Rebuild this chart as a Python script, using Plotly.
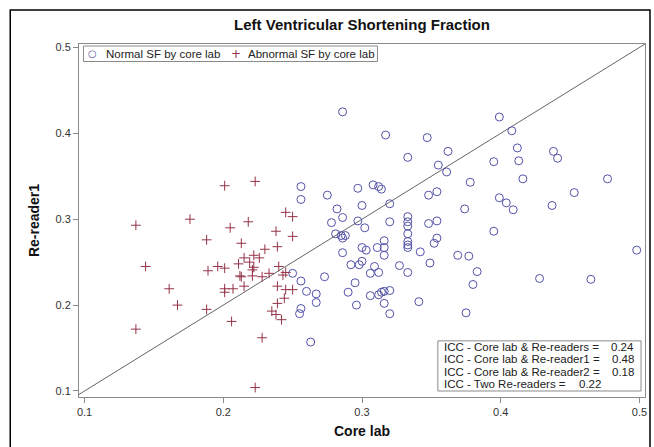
import plotly.graph_objects as go

# ---- data ----
normal_x = [0.286, 0.317, 0.347, 0.333, 0.362, 0.355, 0.361, 0.399, 0.408, 0.412,
            0.395, 0.413, 0.438, 0.441, 0.378, 0.416, 0.477, 0.256, 0.256, 0.275,
            0.297, 0.308, 0.312, 0.314, 0.300, 0.320, 0.348, 0.354, 0.453, 0.399,
            0.404, 0.409, 0.437, 0.374, 0.282, 0.286, 0.278, 0.297, 0.302, 0.320,
            0.333, 0.333, 0.333, 0.333, 0.333, 0.333, 0.333,
            0.348, 0.354, 0.354, 0.352, 0.395, 0.281, 0.285, 0.288, 0.286, 0.286,
            0.300, 0.303, 0.311, 0.316, 0.316, 0.316, 0.342, 0.369, 0.377, 0.349,
            0.292, 0.298, 0.300, 0.309, 0.306, 0.312, 0.327, 0.333, 0.383, 0.380,
            0.428, 0.465, 0.498, 0.250, 0.256, 0.273, 0.295, 0.260, 0.267, 0.267,
            0.290, 0.306, 0.312, 0.314, 0.316, 0.320, 0.296, 0.316, 0.320, 0.341,
            0.375, 0.256, 0.255, 0.263]
normal_y = [0.425, 0.398, 0.395, 0.372, 0.379, 0.363, 0.355, 0.419, 0.403, 0.383,
            0.367, 0.368, 0.379, 0.371, 0.343, 0.347, 0.347, 0.338, 0.323, 0.328,
            0.336, 0.340, 0.338, 0.335, 0.316, 0.318, 0.328, 0.332, 0.331, 0.325,
            0.319, 0.311, 0.316, 0.312, 0.312, 0.302, 0.296, 0.298, 0.290, 0.297,
            0.303, 0.297, 0.292, 0.283, 0.274, 0.270, 0.267,
            0.295, 0.298, 0.278, 0.272, 0.286, 0.283, 0.281, 0.281, 0.278, 0.261,
            0.267, 0.264, 0.267, 0.275, 0.267, 0.258, 0.262, 0.258, 0.257, 0.249,
            0.247, 0.247, 0.251, 0.245, 0.237, 0.238, 0.246, 0.238, 0.239, 0.224,
            0.231, 0.230, 0.264, 0.237, 0.228, 0.233, 0.226, 0.216, 0.213, 0.203,
            0.215, 0.211, 0.212, 0.215, 0.216, 0.217, 0.200, 0.202, 0.190, 0.204,
            0.191, 0.196, 0.190, 0.157]

abnormal_x = [0.137, 0.144, 0.137, 0.161, 0.167, 0.176, 0.188, 0.189, 0.188, 0.196,
              0.201, 0.201, 0.205, 0.201, 0.201, 0.207, 0.206, 0.211, 0.213, 0.215,
              0.212, 0.215, 0.218, 0.219, 0.222, 0.226, 0.222, 0.221, 0.223, 0.223,
              0.228, 0.228, 0.230, 0.233, 0.238, 0.239, 0.240, 0.243, 0.245, 0.239,
              0.245, 0.250, 0.244, 0.239, 0.235, 0.238, 0.242, 0.245, 0.250, 0.250,
              0.221, 0.213]
abnormal_y = [0.293, 0.245, 0.172, 0.219, 0.200, 0.300, 0.276, 0.240, 0.195, 0.245,
              0.243, 0.339, 0.290, 0.219, 0.215, 0.219, 0.181, 0.248, 0.272, 0.255,
              0.234, 0.222, 0.297, 0.250, 0.258, 0.255, 0.244, 0.234, 0.344, 0.104,
              0.162, 0.233, 0.265, 0.237, 0.286, 0.268, 0.245, 0.235, 0.238, 0.222,
              0.218, 0.218, 0.208, 0.202, 0.193, 0.189, 0.183, 0.308, 0.303, 0.280,
              0.241, 0.233]

identity_line = [0.09, 0.51]
tick_vals = [0.1, 0.2, 0.3, 0.4, 0.5]
tick_text = ["0.1", "0.2", "0.3", "0.4", "0.5"]
series_names = ["Normal SF by core lab", "Abnormal SF by core lab"]
icc_labels = ["ICC - Core lab & Re-readers =",
              "ICC - Core lab & Re-reader1 =",
              "ICC - Core lab & Re-reader2 =",
              "ICC - Two Re-readers ="]
icc_values = ["0.24", "0.48", "0.18", "0.22"]

FONT = "Liberation Sans, Arial, sans-serif"
BLUE = "#5252a8"
RED = "#953247"
TXT = "#222222"

fig = go.Figure()
fig.add_trace(go.Scatter(x=identity_line, y=identity_line, mode="lines",
                         line=dict(color="#666666", width=1), showlegend=False,
                         hoverinfo="skip"))
fig.add_trace(go.Scatter(x=normal_x, y=normal_y, mode="markers",
                         name=series_names[0], showlegend=False,
                         marker=dict(symbol="circle-open", size=8,
                                     color=BLUE, line=dict(width=1, color=BLUE))))
fig.add_trace(go.Scatter(x=abnormal_x, y=abnormal_y, mode="markers",
                         name=series_names[1], showlegend=False,
                         marker=dict(symbol="cross-thin-open", size=7,
                                     color=RED, line=dict(width=1, color=RED))))

axis_common = dict(showgrid=False, zeroline=False, showline=True, mirror=True,
                   linecolor="#8a8a8a", linewidth=1, ticks="outside", ticklen=5,
                   tickcolor="#8a8a8a", tickvals=tick_vals, ticktext=tick_text,
                   tickfont=dict(family=FONT, size=11, color="#333333"))

fig.update_layout(
    width=654, height=447,
    margin=dict(l=79, r=7, t=44, b=50),
    paper_bgcolor="white", plot_bgcolor="white",
    font=dict(family=FONT, color=TXT),
    title=dict(text="<b>Left Ventricular Shortening Fraction</b>",
               x=0.5, xref="paper", xanchor="center",
               y=1 - 25 / 447, yref="container", yanchor="middle",
               font=dict(family=FONT, size=15, color="#111111")),
    xaxis=dict(range=[0.096, 0.504],
               title=dict(text="<b>Core lab</b>", font=dict(family=FONT, size=14, color="#111111"),
                          standoff=8),
               **axis_common),
    yaxis=dict(range=[0.093, 0.504],
               title=dict(text="<b>Re-reader1</b>", font=dict(family=FONT, size=14, color="#111111"),
                          standoff=12),
               **axis_common),
    showlegend=False,
)

# outer frame around the whole graphic
fig.add_shape(type="rect", xref="paper", yref="paper",
              x0=(10 - 79) / 568, x1=(652 - 79) / 568,
              y0=-0.2, y1=(397 - 10) / 353,
              line=dict(color="black", width=1.5), layer="below")

# compact legend box (top-left, inside plot)
fig.add_shape(type="rect", xref="paper", yref="paper",
              x0=(83.5 - 79) / 568, x1=(378.5 - 79) / 568,
              y0=(397 - 61.5) / 353, y1=(397 - 46) / 353,
              line=dict(color="#8a8a8a", width=1), fillcolor="white")
leg_y = (397 - 53.8) / 353
fig.add_annotation(xref="paper", yref="paper", x=(93 - 79) / 568, y=leg_y,
                   text="○", showarrow=False, xanchor="center", yanchor="middle",
                   font=dict(family="DejaVu Sans", size=10, color=BLUE))
fig.add_annotation(xref="paper", yref="paper", x=(104 - 79) / 568, y=leg_y,
                   text=series_names[0], showarrow=False, xanchor="left", yanchor="middle",
                   font=dict(family=FONT, size=11.5, color=TXT))
fig.add_annotation(xref="paper", yref="paper", x=(236.5 - 79) / 568, y=leg_y,
                   text="+", showarrow=False, xanchor="center", yanchor="middle",
                   font=dict(family="DejaVu Sans", size=12, color=RED))
fig.add_annotation(xref="paper", yref="paper", x=(247 - 79) / 568, y=leg_y,
                   text=series_names[1], showarrow=False, xanchor="left", yanchor="middle",
                   font=dict(family=FONT, size=11.5, color=TXT))

# ICC box
fig.add_shape(type="rect", xref="paper", yref="paper",
              x0=0.634, x1=0.993, y0=0.017, y1=0.159,
              line=dict(color="#8a8a8a", width=1), fillcolor="white")
line_ys = [0.141, 0.107, 0.072, 0.036]
value_xs = [0.984, 0.984, 0.984, 0.926]
for lab, val, yy, vx in zip(icc_labels, icc_values, line_ys, value_xs):
    fig.add_annotation(xref="paper", yref="paper", x=0.641, y=yy, text=lab,
                       showarrow=False, xanchor="left", yanchor="middle",
                       font=dict(family=FONT, size=11.5, color=TXT))
    fig.add_annotation(xref="paper", yref="paper", x=vx, y=yy, text=val,
                       showarrow=False, xanchor="right", yanchor="middle",
                       font=dict(family=FONT, size=11.5, color=TXT))

fig.write_html("out.html")
